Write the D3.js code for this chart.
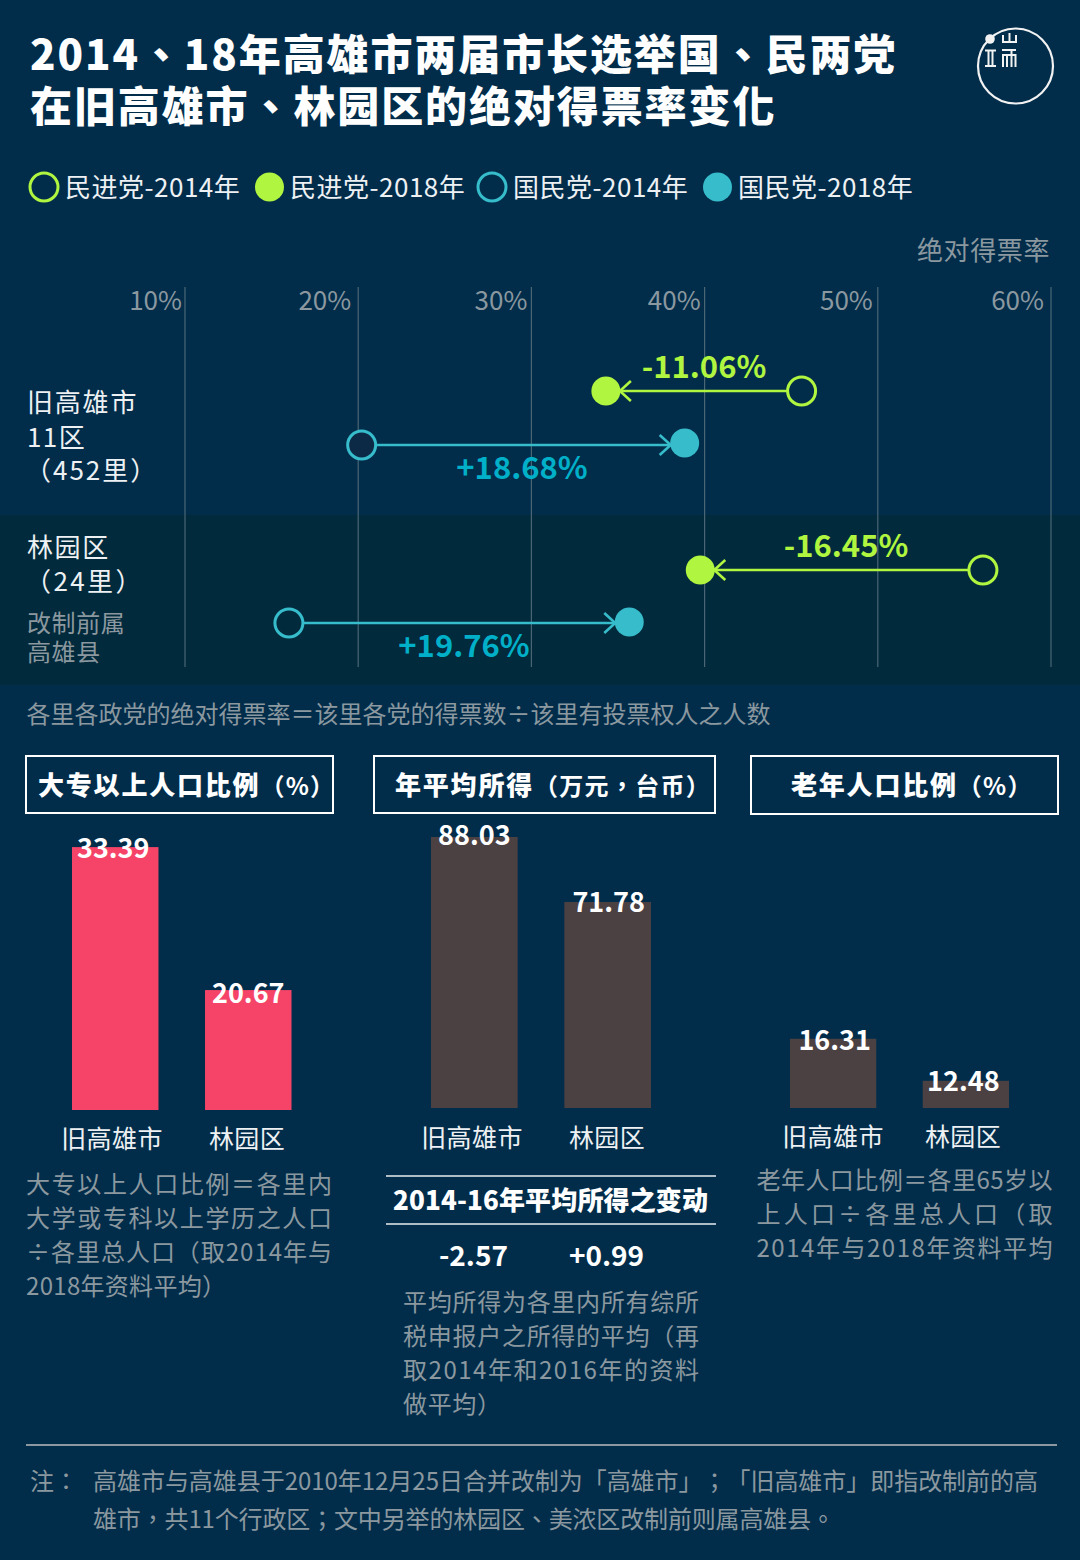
<!DOCTYPE html>
<html>
<head>
<meta charset="utf-8">
<script src="https://cdn.jsdelivr.net/npm/d3@7"></script>
<style>
html, body { margin: 0; padding: 0; background: #012d4b; }
svg { display: block; }
text { font-family: "Noto Sans CJK TC", "Noto Sans CJK SC", sans-serif; text-spacing-trim: space-all; }
</style>
</head>
<body>
<svg id="canvas"></svg>
<script>
// data
const titleLines = ['2014、18年高雄市两届市长选举国、民两党', '在旧高雄市、林园区的绝对得票率变化'];
const legendLabels = ['民进党-2014年', '民进党-2018年', '国民党-2014年', '国民党-2018年'];
const pctTicks = [10, 20, 30, 40, 50, 60];
const dppFrom = [45.6, 56.07];
const dppTo = [34.3, 39.75];
const dppDelta = ['-11.06%', '-16.45%'];
const kmtFrom = [20.2, 16.0];
const kmtTo = [38.85, 35.65];
const kmtDelta = ['+18.68%', '+19.76%'];

const areas = ['旧高雄市', '林园区'];
const eduValues = [33.39, 20.67];
const incomeValues = [88.03, 71.78];
const elderValues = [16.31, 12.48];
const incomeChange = ['-2.57', '+0.99'];

const width = 1080;
const height = 1560;

const bg = '#012d4b';
const band = '#012a3c';
const white = '#ffffff';
const soft = '#eef1f3';
const grey = '#8b989f';
const green = '#b0f53f';
const teal = '#37bccb';
const tealText = '#00b0c8';

const svg = d3.select('#canvas').attr('width', width).attr('height', height);
svg.append('rect').attr('width', width).attr('height', height).attr('fill', bg);

const addText = (x, y, str, size, color, opts = {}) => {
    const t = svg.append('text')
        .attr('x', x)
        .attr('y', y)
        .attr('fill', color)
        .attr('font-size', size)
        .attr('font-weight', opts.weight || 400)
        .attr('text-anchor', opts.anchor || 'start')
        .attr('letter-spacing', opts.spacing || 0)
        .text(str);
    if (opts.fit) t.attr('textLength', opts.fit).attr('lengthAdjust', 'spacing');
    return t;
};

// title + logo
titleLines.forEach((s, i) => addText(30, 70 + i * 52, s, 42, white, { weight: 900, spacing: 1.9 }));

const logo = svg.append('g').attr('fill', 'none').attr('stroke', '#f2f2f2');
logo.append('circle').attr('cx', 1015.5).attr('cy', 66).attr('r', 37.5).attr('stroke-width', 2.2);
logo.append('circle').attr('cx', 990).attr('cy', 39).attr('r', 4.8).attr('fill', '#f2f2f2').attr('stroke', 'none');
logo.append('path').attr('stroke-width', 2)
    .attr('d', 'M985 50.5H996M985 66H996M988.5 50.5V66M992.5 50.5V66'
        + 'M1003 35V42H1016V35M1009.5 33V42'
        + 'M1002 50H1016M1003 67V55H1015.5V67M1007 55V67M1011.5 50V67');

// legend
const legendX = [44, 269.5, 492, 717.5];
const legendTextX = [65, 290, 513, 738];
legendLabels.forEach((s, i) => {
    const isOpen = i % 2 === 0;
    const col = i < 2 ? green : teal;
    svg.append('circle').attr('cx', legendX[i]).attr('cy', 187)
        .attr('r', isOpen ? 14 : 14.5)
        .attr('fill', isOpen ? 'none' : col)
        .attr('stroke', isOpen ? col : 'none')
        .attr('stroke-width', 3);
    addText(legendTextX[i], 197, s, 26, soft, { spacing: 0.5 });
});

// dumbbell chart
svg.append('rect').attr('x', 0).attr('y', 515).attr('width', width).attr('height', 170).attr('fill', band);
addText(1050, 260, '绝对得票率', 26, grey, { anchor: 'end', spacing: 0.6 });

const x = d3.scaleLinear().domain([10, 60]).range([185, 1051]);

const axis = d3.axisBottom(x)
    .tickValues(pctTicks)
    .tickSize(380)
    .offset(0)
    .tickFormat(d => d + '%');

const tickNudge = [3, 7, 4, 4, 5, 7];
const axisG = svg.append('g').attr('transform', 'translate(0,287)').call(axis);
axisG.select('.domain').remove();
axisG.selectAll('.tick line').attr('stroke', '#4a6675').attr('stroke-width', 1.2);
axisG.selectAll('.tick text')
    .attr('y', 23)
    .attr('dy', 0)
    .attr('x', (d, i) => -tickNudge[i])
    .attr('text-anchor', 'end')
    .attr('fill', grey)
    .attr('font-size', 26)
    .style('font-family', '"Noto Sans CJK TC"');

const rowY = [[391, 445], [570, 623]];
const dotShift = [[0, -2], [0, -1]];
const openFill = [[bg, '#0c2a45'], [band, band]];
const labelPos = [[[704, 378], [522, 479]], [[846, 557], [464, 657]]];

const drawLink = (from, to, y, dotY, color, fill) => {
    const dir = to > from ? 1 : -1;
    const tip = x(to) - dir * 14;
    svg.append('path')
        .attr('d', d3.line()([[x(from), y], [tip, y]]))
        .attr('stroke', color).attr('stroke-width', 2.6).attr('fill', 'none');
    svg.append('path')
        .attr('d', d3.line()([[tip - dir * 11, y - 10], [tip, y], [tip - dir * 11, y + 10]]))
        .attr('stroke', color).attr('stroke-width', 2.6).attr('fill', 'none');
    svg.append('circle').attr('cx', x(from)).attr('cy', y).attr('r', 14)
        .attr('fill', fill).attr('stroke', color).attr('stroke-width', 3);
    svg.append('circle').attr('cx', x(to)).attr('cy', dotY).attr('r', 14.5).attr('fill', color);
};

areas.forEach((a, i) => {
    drawLink(dppFrom[i], dppTo[i], rowY[i][0], rowY[i][0] + dotShift[i][0], green, openFill[i][0]);
    drawLink(kmtFrom[i], kmtTo[i], rowY[i][1], rowY[i][1] + dotShift[i][1], teal, openFill[i][1]);
    addText(labelPos[i][0][0], labelPos[i][0][1], dppDelta[i], 31, green, { weight: 700, anchor: 'middle' });
    addText(labelPos[i][1][0], labelPos[i][1][1], kmtDelta[i], 31, tealText, { weight: 700, anchor: 'middle' });
});

// row labels
addText(27, 412, '旧高雄市', 26, soft, { spacing: 1.8 });
addText(27, 447, '11区', 26, soft, { spacing: 1.4 });
addText(25, 480, '（452里）', 26, soft, { spacing: 2 });
addText(27, 557, '林园区', 26, soft, { spacing: 1.6 });
addText(25, 591, '（24里）', 26, soft, { spacing: 2.4 });
addText(27, 632, '改制前属', 24, grey, { spacing: 0.6 });
addText(27, 661, '高雄县', 24, grey, { spacing: 0.6 });
addText(26.5, 723, '各里各政党的绝对得票率＝该里各党的得票数÷该里有投票权人之人数', 24, grey);

// small bar panels
const panels = [
    { box: [26, 756, 307, 57], head: '大专以上人口比例', unit: '（%）', headX: 38,
      values: eduValues, base: 10, perUnit: 11.24, floor: 1110, range: [72, 291.5], color: '#f64468',
      centers: [112, 247], catY: 1148, nudge: [[-2, 11], [0, 13]] },
    { box: [374, 756, 341, 57], head: '年平均所得', unit: '（万元，台币）', headX: 395,
      values: incomeValues, base: 20.28, perUnit: 4, floor: 1108, range: [431, 651], color: '#4b4143',
      centers: [472, 607], catY: 1147, nudge: [[0, 8], [1, 10]] },
    { box: [751, 756, 307, 58], head: '老年人口比例', unit: '（%）', headX: 791,
      values: elderValues, base: 10, perUnit: 10.97, floor: 1108, range: [790, 1009], color: '#4b4143',
      centers: [833, 963], catY: 1146, nudge: [[1.5, 11], [-2.5, 10]] }
];

panels.forEach(p => {
    svg.append('rect')
        .attr('x', p.box[0]).attr('y', p.box[1]).attr('width', p.box[2]).attr('height', p.box[3])
        .attr('fill', 'none').attr('stroke', white).attr('stroke-width', 2);
    const h = addText(p.headX, 795, p.head, 26, white, { weight: 900, spacing: 1.8 });
    h.append('tspan').attr('font-size', 24).attr('font-weight', 700).attr('letter-spacing', 1.3).text(p.unit);

    const xb = d3.scaleBand().domain(areas).range(p.range).paddingInner(0.35);
    const top = d3.max(p.values);
    const yb = d3.scaleLinear()
        .domain([p.base, top])
        .range([p.floor, p.floor - (top - p.base) * p.perUnit]);

    svg.selectAll(null)
        .data(p.values)
        .enter()
        .append('rect')
        .attr('x', (d, i) => xb(areas[i]))
        .attr('y', d => yb(d))
        .attr('width', xb.bandwidth())
        .attr('height', d => p.floor - yb(d))
        .attr('fill', p.color);

    p.values.forEach((d, i) => {
        addText(xb(areas[i]) + xb.bandwidth() / 2 + p.nudge[i][0], yb(d) + p.nudge[i][1], d.toFixed(2), 27, white, { weight: 700, anchor: 'middle' });
        addText(p.centers[i], p.catY, areas[i], 25, soft, { anchor: 'middle', spacing: 0.4 });
    });
});

// notes under the bars
const eduNote = ['大专以上人口比例＝各里内', '大学或专科以上学历之人口', '÷各里总人口（取2014年与', '2018年资料平均）'];
const eduFit = [306, 306, 306, 200];
eduNote.forEach((s, i) => addText(26, 1193 + i * 34, s, 24, grey, { fit: eduFit[i] }));

svg.append('path').attr('d', 'M386 1176H716M386 1224H716').attr('stroke', '#e8ecee').attr('stroke-width', 1.6);
addText(393, 1210, '2014-16年平均所得之变动', 26, white, { weight: 900, fit: 315 });
addText(473.5, 1266, incomeChange[0], 28, white, { weight: 700, anchor: 'middle' });
addText(606.5, 1266, incomeChange[1], 28, white, { weight: 700, anchor: 'middle' });

const incomeNote = ['平均所得为各里内所有综所', '税申报户之所得的平均（再', '取2014年和2016年的资料', '做平均）'];
const incomeFit = [296, 296, 296, 98];
incomeNote.forEach((s, i) => addText(403, 1311 + i * 34, s, 24, grey, { fit: incomeFit[i] }));

const elderNote = ['老年人口比例＝各里65岁以', '上人口÷各里总人口（取', '2014年与2018年资料平均'];
elderNote.forEach((s, i) => addText(756.5, 1189 + i * 34, s, 24, grey, { fit: 296 }));

// footnote
svg.append('path').attr('d', 'M26 1445H1057').attr('stroke', '#8b989f').attr('stroke-width', 2);
addText(30, 1490, '注：', 24, grey);
addText(93, 1490, '高雄市与高雄县于2010年12月25日合并改制为「高雄市」；「旧高雄市」即指改制前的高', 24, grey, { fit: 945 });
addText(93, 1528, '雄市，共11个行政区；文中另举的林园区、美浓区改制前则属高雄县。', 24, grey, { fit: 742 });
</script>
</body>
</html>
